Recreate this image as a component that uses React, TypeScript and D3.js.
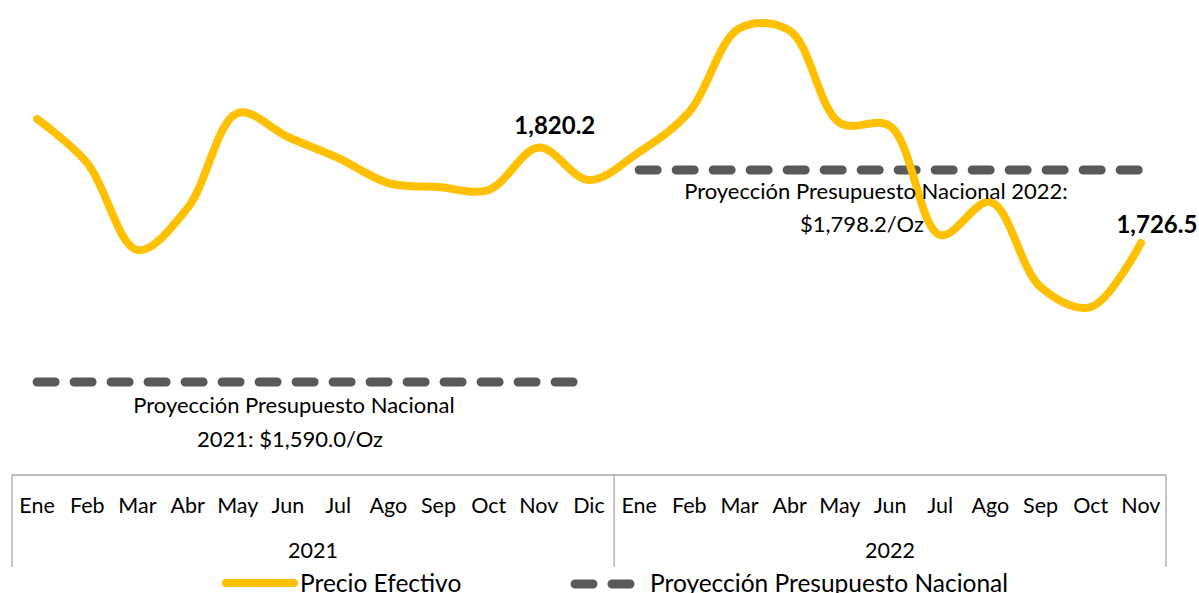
import React from "react";
import * as d3 from "d3";

const months2021 = ["Ene", "Feb", "Mar", "Abr", "May", "Jun", "Jul", "Ago", "Sep", "Oct", "Nov", "Dic"];
const months2022 = ["Ene", "Feb", "Mar", "Abr", "May", "Jun", "Jul", "Ago", "Sep", "Oct", "Nov"];
const years = ["2021", "2022"];

// precio efectivo del oro, US$/Oz
const precio2021 = [1848.3, 1805.0, 1719.6, 1760.9, 1854.2, 1830.6, 1810.0, 1785.4, 1781.5, 1778.6, 1820.2, 1788.4];
const precio2022 = [1815.9, 1855.2, 1937.5, 1935.0, 1844.4, 1841.4, 1734.3, 1766.8, 1683.3, 1663.6, 1726.5];

const proyeccion2021 = 1590.0;
const proyeccion2022 = 1798.2;

const labelTexts2021 = ["Proyección Presupuesto Nacional", "2021: $1,590.0/Oz"];
const labelTexts2022 = ["Proyección Presupuesto Nacional 2022:", "$1,798.2/Oz"];
const legendNames = ["Precio Efectivo", "Proyección Presupuesto Nacional"];

const GOLD = "#FFC000";
const GREY = "#595959";
const FONT = "Lato, 'Open Sans', sans-serif";

type Pt = { key: string; month: string; year: string; value: number };

const points: Pt[] = [
  ...months2021.map((m, i) => ({ key: `2021-${i}`, month: m, year: years[0], value: precio2021[i] })),
  ...months2022.map((m, i) => ({ key: `2022-${i}`, month: m, year: years[1], value: precio2022[i] })),
];

export default function App() {
  const width = 1199;
  const height = 593;
  const left = 12, right = 1166;
  const axisTop = 475, axisBottom = 567;

  const x = d3.scaleBand<string>().domain(points.map((d) => d.key)).range([left, right]).padding(0);
  const y = d3.scaleLinear().domain([proyeccion2021, proyeccion2022]).range([382, 170]);
  const cx = (k: string) => (x(k) ?? 0) + x.bandwidth() / 2;

  const line = d3
    .line<Pt>()
    .x((d) => cx(d.key))
    .y((d) => y(d.value))
    .curve(d3.curveCatmullRom.alpha(0.5));

  const p2021 = points.filter((d) => d.year === years[0]);
  const p2022 = points.filter((d) => d.year === years[1]);

  const flat = d3
    .line<Pt>()
    .x((d) => cx(d.key));

  const dash2021 = flat.y(() => y(proyeccion2021))(p2021) ?? "";
  const dash2022 = flat.y(() => y(proyeccion2022))(p2022) ?? "";

  const sepX = x(p2022[0].key) ?? 0;
  const nov21 = p2021[10];
  const last = p2022[p2022.length - 1];

  return (
    <svg width={width} height={height} style={{ position: "absolute", left: 0, top: 0, background: "#fff" }}>
      {/* eje de categorías */}
      <g stroke="#A6A6A6" strokeWidth={1.3} fill="none">
        <line x1={left} x2={right} y1={axisTop} y2={axisTop} />
        <line x1={left} x2={left} y1={axisTop} y2={axisBottom} />
        <line x1={sepX} x2={sepX} y1={axisTop} y2={axisBottom} />
        <line x1={right} x2={right} y1={axisTop} y2={axisBottom} />
      </g>
      <g fontFamily={FONT} fontSize={21.5} fill="#000" textAnchor="middle">
        {points.map((d) => (
          <text key={d.key} x={cx(d.key)} y={513}>
            {d.month}
          </text>
        ))}
        <text x={(left + sepX) / 2} y={558}>{years[0]}</text>
        <text x={(sepX + right) / 2} y={558}>{years[1]}</text>
      </g>

      {/* proyecciones */}
      <path d={dash2021} stroke={GREY} strokeWidth={9} strokeLinecap="round" strokeDasharray="18 19" fill="none" />
      <path d={dash2022} stroke={GREY} strokeWidth={9} strokeLinecap="round" strokeDasharray="18 19" fill="none" />

      {/* precio efectivo */}
      <path d={line(points) ?? ""} stroke={GOLD} strokeWidth={8} strokeLinecap="round" strokeLinejoin="round" fill="none" />

      <g fontFamily={FONT} fontSize={22} fill="#000" textAnchor="middle">
        <text x={294} y={413}>{labelTexts2021[0]}</text>
        <text x={290} y={447}>{labelTexts2021[1]}</text>
        <text x={876} y={199}>{labelTexts2022[0]}</text>
        <text x={862} y={232}>{labelTexts2022[1]}</text>
      </g>

      <g fontFamily={FONT} fontSize={24} fontWeight="bold" fill="#000" textAnchor="middle">
        <text x={cx(nov21.key) + 16} y={y(nov21.value) - 14}>
          {d3.format(",.1f")(nov21.value)}
        </text>
        <text x={cx(last.key) + 16} y={y(last.value) - 10}>
          {d3.format(",.1f")(last.value)}
        </text>
      </g>

      {/* leyenda */}
      <line x1={226} x2={294} y1={583} y2={583} stroke={GOLD} strokeWidth={8} strokeLinecap="round" />
      <line x1={575} x2={632} y1={584} y2={584} stroke={GREY} strokeWidth={9} strokeLinecap="round" strokeDasharray="18 19" />
      <g fontFamily={FONT} fontSize={24.5} fill="#000">
        <text x={300} y={592}>{legendNames[0]}</text>
        <text x={650} y={592}>{legendNames[1]}</text>
      </g>
    </svg>
  );
}
